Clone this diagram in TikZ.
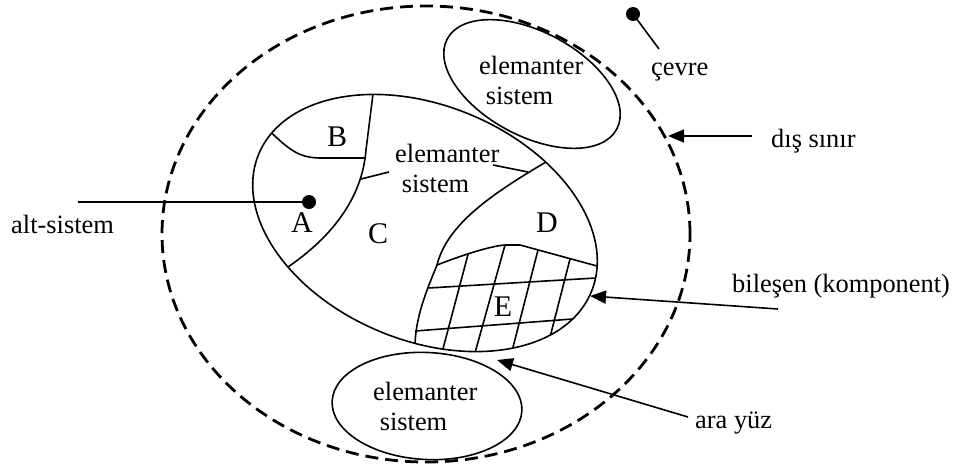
\documentclass[tikz,border=0pt]{standalone}
\usepackage{fontspec}
\setmainfont{Liberation Serif}
\usetikzlibrary{shapes.geometric,arrows.meta}
\begin{document}
\begin{tikzpicture}[x=1pt,y=-1pt,
  thinline/.style={line width=1.6pt},
  lbl/.style={font=\fontsize{26.4}{30}\selectfont, inner sep=0pt},
  letter/.style={font=\fontsize{30}{34}\selectfont, inner sep=0pt},
  ell/.style={draw, ellipse, inner sep=0pt, line width=1.6pt},
  boundary/.style={draw, ellipse, inner sep=0pt, line width=2.8pt, dash pattern=on 13pt off 7pt},
  arr/.style={line width=1.6pt, -{Triangle[length=16pt,width=13pt]}},
  dot/.style={circle, fill, inner sep=0pt, minimum size=14pt},
]
\useasboundingbox (0,0) rectangle (955,466);

% ellipses
\node[boundary, minimum width=528pt, minimum height=456pt] (env) at (426,234) {};
\node[ell, minimum width=360pt, minimum height=235pt, rotate=-22.5] (main) at (425,223) {};
\node[ell, minimum width=192pt, minimum height=104pt, rotate=-28] (top) at (532,84) {};
\node[ell, minimum width=190pt, minimum height=107pt, rotate=-3] (bot) at (427,406) {};

% inner partitions
\begin{scope}
  \clip[shift={(425,223)}, rotate=-22.5] (0,0) ellipse [x radius=180pt, y radius=117.5pt];
  % A / C border
  \draw[thinline] (374,86) -- (373,94) -- (366,150) .. controls (362,200) and (330,238) .. (288,267) -- (279,273);
  % B border
  \draw[thinline] (266,128) -- (276,137) .. controls (295,155) and (305,158) .. (322,158) -- (366,158);
  % D border
  \draw[thinline] (555,157) -- (546,162) .. controls (490,195) and (447,225) .. (437,265)
        .. controls (426,292) and (415,318) .. (415,348) -- (415.5,360);
  % E top border
  \draw[thinline] (437,265) .. controls (460,256) and (490,246) .. (505,245) -- (520,245) -- (597,266) -- (607,268.8);
  % E grid
  \draw[thinline] (428.5,288) -- (606,277.4);
  \draw[thinline] (415,331) -- (583,318.2);
  \draw[thinline] (468,254.5) -- (440,360);
  \draw[thinline] (505,245) -- (473,360);
  \draw[thinline] (538,250) -- (511,355);
  \draw[thinline] (570,259) -- (548,345);
\end{scope}

% leaders of the middle "elemanter sistem"
\coordinate (ml1) at (361,179);
\coordinate (ml2) at (389,172);
\coordinate (mr1) at (493,165);
\coordinate (mr2) at (528,172);
\draw[thinline] (ml1) -- (ml2);
\draw[thinline] (mr1) -- (mr2);

% region letters
\node[letter] (lA) at (302,223) {A};
\node[letter] (lB) at (337,137) {B};
\node[letter] (lC) at (378,234) {C};
\node[letter] (lD) at (547,223) {D};
\node[letter] (lE) at (503,307) {E};

% elemanter sistem labels
\node[lbl, align=left, anchor=north west] (ttop) at (479,56) {elemanter\\\hspace*{6.6pt}sistem};
\node[lbl, align=left, anchor=north west] (tmid) at (395,144) {elemanter\\\hspace*{6.6pt}sistem};
\node[lbl, align=left, anchor=north west] (tbot) at (373,382) {elemanter\\\hspace*{6.6pt}sistem};

% alt-sistem
\node[lbl, anchor=base west] (alt) at (11,233) {alt-sistem};
\node[dot] (adot) at (309,202) {};
\coordinate (altend) at (78,202);
\draw[thinline] (altend) -- (adot.center);

% cevre
\node[lbl, anchor=base west] (cevre) at (651,75) {çevre};
\node[dot] (cdot) at (633,14) {};
\coordinate (cend) at (659,49);
\draw[thinline] (cdot.center) -- (cend);

% dis sinir
\node[lbl, anchor=base west] (dis) at (771,147) {dış sınır};
\coordinate (disstart) at (752,136);
\coordinate (distip) at (668,136);
\draw[arr] (disstart) -- (distip);

% bilesen
\node[lbl, anchor=base west] (bil) at (732,292) {bileşen (komponent)};
\coordinate (bilstart) at (778,309);
\coordinate (biltip) at (590,296);
\draw[arr] (bilstart) -- (biltip);

% ara yuz
\node[lbl, anchor=base west] (ara) at (695,428) {ara yüz};
\coordinate (arastart) at (688,417);
\coordinate (aratip) at (497,360);
\draw[arr] (arastart) -- (aratip);
\end{tikzpicture}
\end{document}
